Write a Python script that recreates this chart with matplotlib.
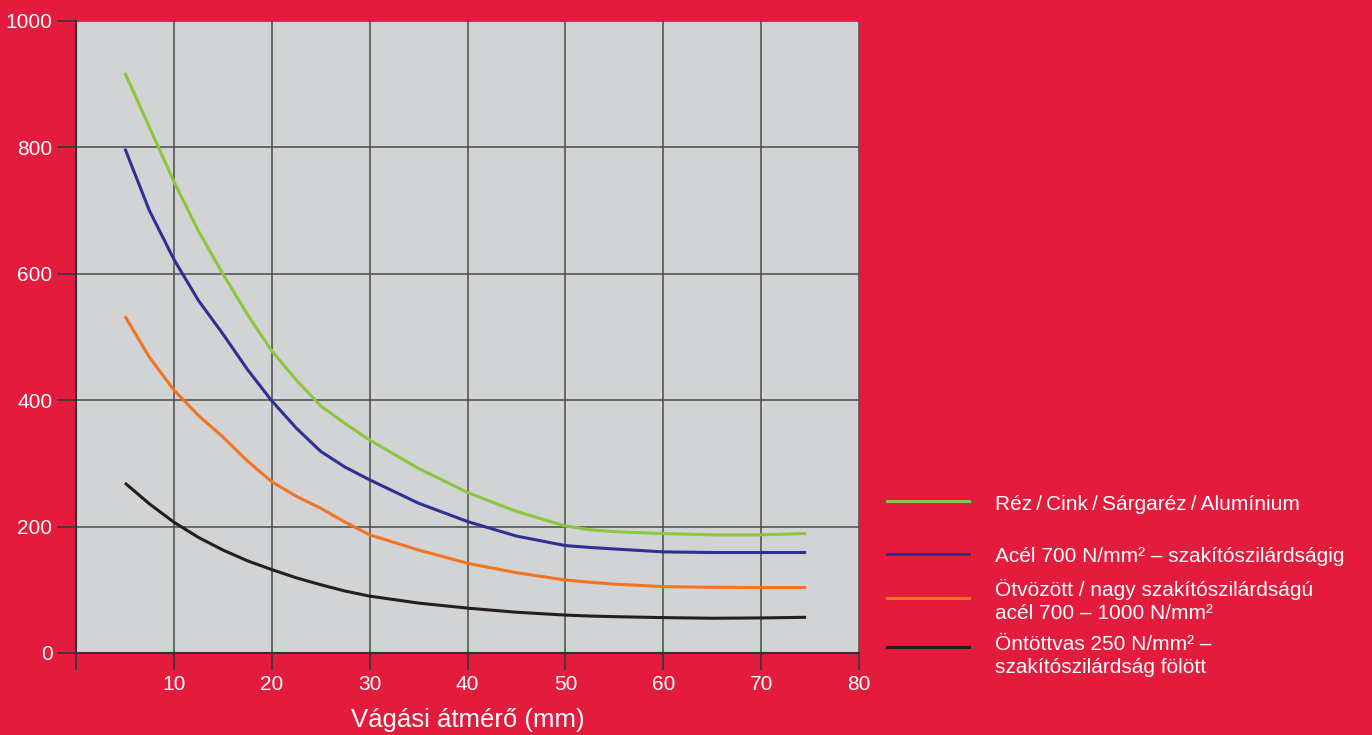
import matplotlib
matplotlib.use("Agg")
import matplotlib.pyplot as plt

plt.rcParams['font.family'] = ['Liberation Sans', 'DejaVu Sans']

diam = [5, 7.5, 10, 12.5, 15, 17.5, 20, 22.5, 25, 27.5, 30, 35, 40, 45, 50, 52.5, 55, 60, 65, 70, 74.6]
green = [918, 832, 746, 668, 600, 536, 478, 432, 391, 363, 337, 292, 254, 224, 201, 195, 192, 189, 187, 187, 189]
blue = [798, 700, 623, 558, 505, 449, 399, 356, 319, 294, 274, 237, 208, 185, 170, 167, 164.6, 160, 159, 159, 159]
orange = [533, 468, 416, 376, 342, 304, 271, 248, 229, 207, 187, 163, 142, 127, 115.5, 112, 109, 105, 104, 103.5, 103.5]
black = [269, 236, 207, 183, 163, 146, 132, 119, 108, 98, 90, 79, 71, 64.5, 60, 58.5, 57.5, 56, 55, 55.5, 56.5]

labels = ["Réz\u2009/\u2009Cink\u2009/\u2009Sárgaréz\u2009/\u2009Alumínium",
          "Acél 700 N/mm² – szakítószilárdságig",
          "Ötvözött / nagy szakítószilárdságú\nacél 700 – 1000 N/mm²",
          "Öntöttvas 250 N/mm² –\nszakítószilárdság fölött"]
colors = ["#8cc63f", "#2e3192", "#f47321", "#231f20"]
series = [green, blue, orange, black]

xticks = [10, 20, 30, 40, 50, 60, 70, 80]
yticks = [0, 200, 400, 600, 800, 1000]

W, H = 1372, 735
fig = plt.figure(figsize=(W/100, H/100), dpi=100)
fig.patch.set_facecolor("#e31b3c")
ax = fig.add_axes([76/W, 1-653/H, (859-76)/W, (653-21)/H])
ax.set_facecolor("#d1d3d4")

for s, c in zip(series, colors):
    ax.plot(diam, s, color=c, lw=2.2, solid_capstyle='butt', solid_joinstyle='round')

ax.set_xlim(0, 80)
ax.set_ylim(0, 1000)
ax.set_xticks(xticks)
ax.set_yticks(yticks)
ax.grid(True, color="#4a4a4a", lw=1.1)
ax.set_axisbelow(True)
for sp in ['top', 'right']:
    ax.spines[sp].set_visible(False)
for sp in ['left', 'bottom']:
    ax.spines[sp].set_color("#333333")
    ax.spines[sp].set_linewidth(1.5)
ax.tick_params(axis='y', colors="#3a3a3a", labelcolor="white", labelsize=15,
               length=14, width=1.3, pad=3)
ax.tick_params(axis='x', colors="#3a3a3a", labelcolor="white", labelsize=15,
               length=12, width=1.3, pad=4)
ax.set_xticks([0], minor=True)
ax.tick_params(axis='x', which='minor', length=12, width=1.3, colors="#3a3a3a")
ax.set_xlabel("Vágási átmérő (mm)", color="white", fontsize=18.5, labelpad=10)

# legend drawn manually
line_y = [501, 554, 598, 647]
text_y = [504, 557, 601, 656]
for c, lab, ly, ty in zip(colors, labels, line_y, text_y):
    fig.add_artist(plt.Line2D([887/W, 969/W], [1-ly/H, 1-ly/H], color=c, lw=2.2,
                              transform=fig.transFigure))
    fig.text(995/W, 1-ty/H, lab, color="white", fontsize=15, va='center', ha='left',
             linespacing=1.25)

fig.savefig("out.png", dpi=100, facecolor=fig.get_facecolor())
